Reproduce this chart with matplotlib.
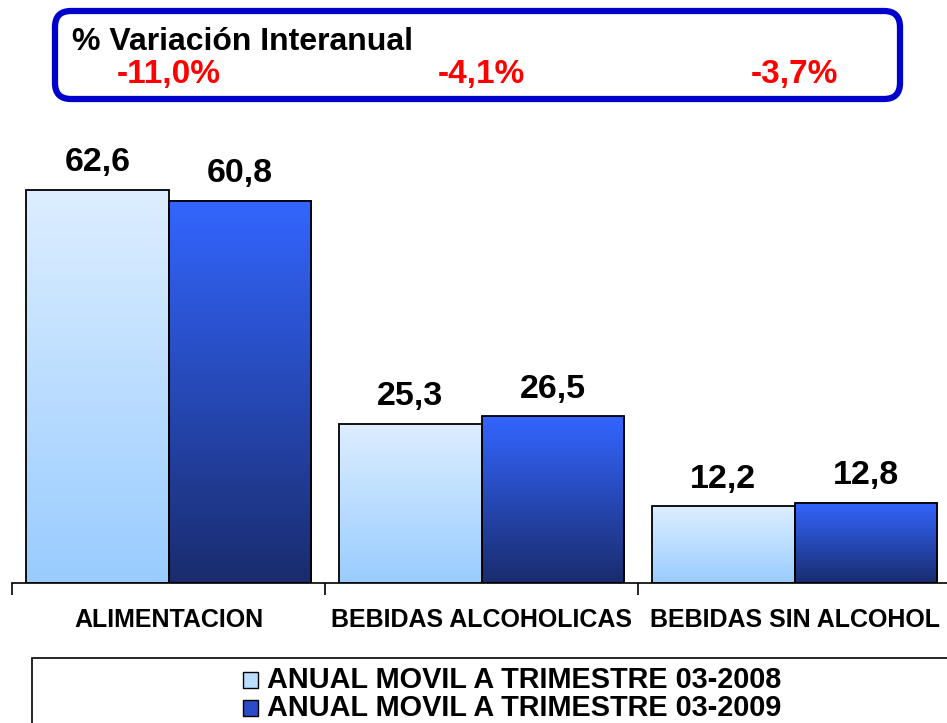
import numpy as np
import matplotlib
matplotlib.use("Agg")
import matplotlib.pyplot as plt
from matplotlib.colors import LinearSegmentedColormap
from matplotlib.patches import FancyBboxPatch, Rectangle
from matplotlib.transforms import IdentityTransform, blended_transform_factory

plt.rcParams["font.family"] = ["Liberation Sans", "DejaVu Sans"]
plt.rcParams["font.weight"] = "bold"

# %% data
categories = ["ALIMENTACION", "BEBIDAS ALCOHOLICAS", "BEBIDAS SIN ALCOHOL"]
series = ["ANUAL MOVIL A TRIMESTRE 03-2008", "ANUAL MOVIL A TRIMESTRE 03-2009"]
values_2008 = [62.6, 25.3, 12.2]
values_2009 = [60.8, 26.5, 12.8]
variation = ["-11,0%", "-4,1%", "-3,7%"]
box_title = "% Variación Interanual"

# gradients top -> bottom
grad_colors = [("#DDEEFF", "#99CCFF"), ("#3366FF", "#1A2C6E")]
legend_colors = ["#BBDDFE", "#2A4CC8"]

# %%
W, H = 947, 723
fig = plt.figure(figsize=(W / 100, H / 100), dpi=100)
ax = fig.add_axes([12 / W, 140 / H, 939 / W, 440 / H])

x = np.arange(len(categories))
bw = 0.455
for s, vals in enumerate([values_2008, values_2009]):
    top, bottom = grad_colors[s]
    cmap = LinearSegmentedColormap.from_list(f"g{s}", [bottom, top])
    offs = -bw / 2 if s == 0 else bw / 2
    bars = ax.bar(x + offs, vals, width=bw, facecolor="none",
                  edgecolor="black", linewidth=1.3, zorder=3)
    for b, v in zip(bars, vals):
        x0 = b.get_x()
        grad = np.linspace(0, 1, 256).reshape(-1, 1)
        ax.imshow(grad, extent=[x0, x0 + bw, 0, v], origin="lower",
                  aspect="auto", cmap=cmap, zorder=2)
        ax.annotate(f"{v:.1f}".replace(".", ","), (x0 + bw / 2, v),
                    xytext=(0, 8.5), textcoords="offset points",
                    ha="center", va="bottom", fontsize=24.5, fontweight="bold")

ax.set_xlim(-0.5, 2.5)
ax.set_ylim(0, 70)
for sp in ["left", "right", "top"]:
    ax.spines[sp].set_visible(False)
ax.spines["bottom"].set_linewidth(1.2)
ax.set_yticks([])
ax.set_xticks(x)
ax.set_xticklabels(categories, fontsize=18, fontweight="bold")
ax.tick_params(axis="x", which="major", length=0, pad=18)
ax.set_xticks([-0.5, 0.5, 1.5, 2.5], minor=True)
ax.tick_params(axis="x", which="minor", length=8.6, width=1.2, direction="out")

# variation box on top
px = IdentityTransform()
box = FancyBboxPatch((55, 624), 845, 88, boxstyle="round,pad=0,rounding_size=16",
                     transform=px, facecolor="white", edgecolor="#0000CC",
                     linewidth=4.5, figure=fig)
fig.patches.append(box)
fig.text(72 / W, 1 - 42 / H, box_title, fontsize=23, fontweight="bold",
         ha="left", va="center")
trans = blended_transform_factory(ax.transData, fig.transFigure)
for xi, txt in zip(x, variation):
    fig.text(xi, 1 - 75 / H, txt, transform=trans, color="#FF0000",
             fontsize=24, fontweight="bold", ha="center", va="center")

# legend box
leg_box = Rectangle((32, -10), 940, 75, transform=px, facecolor="white",
                    edgecolor="black", linewidth=1.2, figure=fig)
fig.patches.append(leg_box)
for s, (name, yc) in enumerate(zip(series, [680, 708])):
    sq = Rectangle((243, H - yc - 8), 15, 16, transform=px,
                   facecolor=legend_colors[s], edgecolor="black",
                   linewidth=1, figure=fig)
    fig.patches.append(sq)
    fig.text(267 / W, 1 - yc / H, name, fontsize=20.8, fontweight="bold",
             ha="left", va="center")

fig.savefig("out.png", dpi=100)
